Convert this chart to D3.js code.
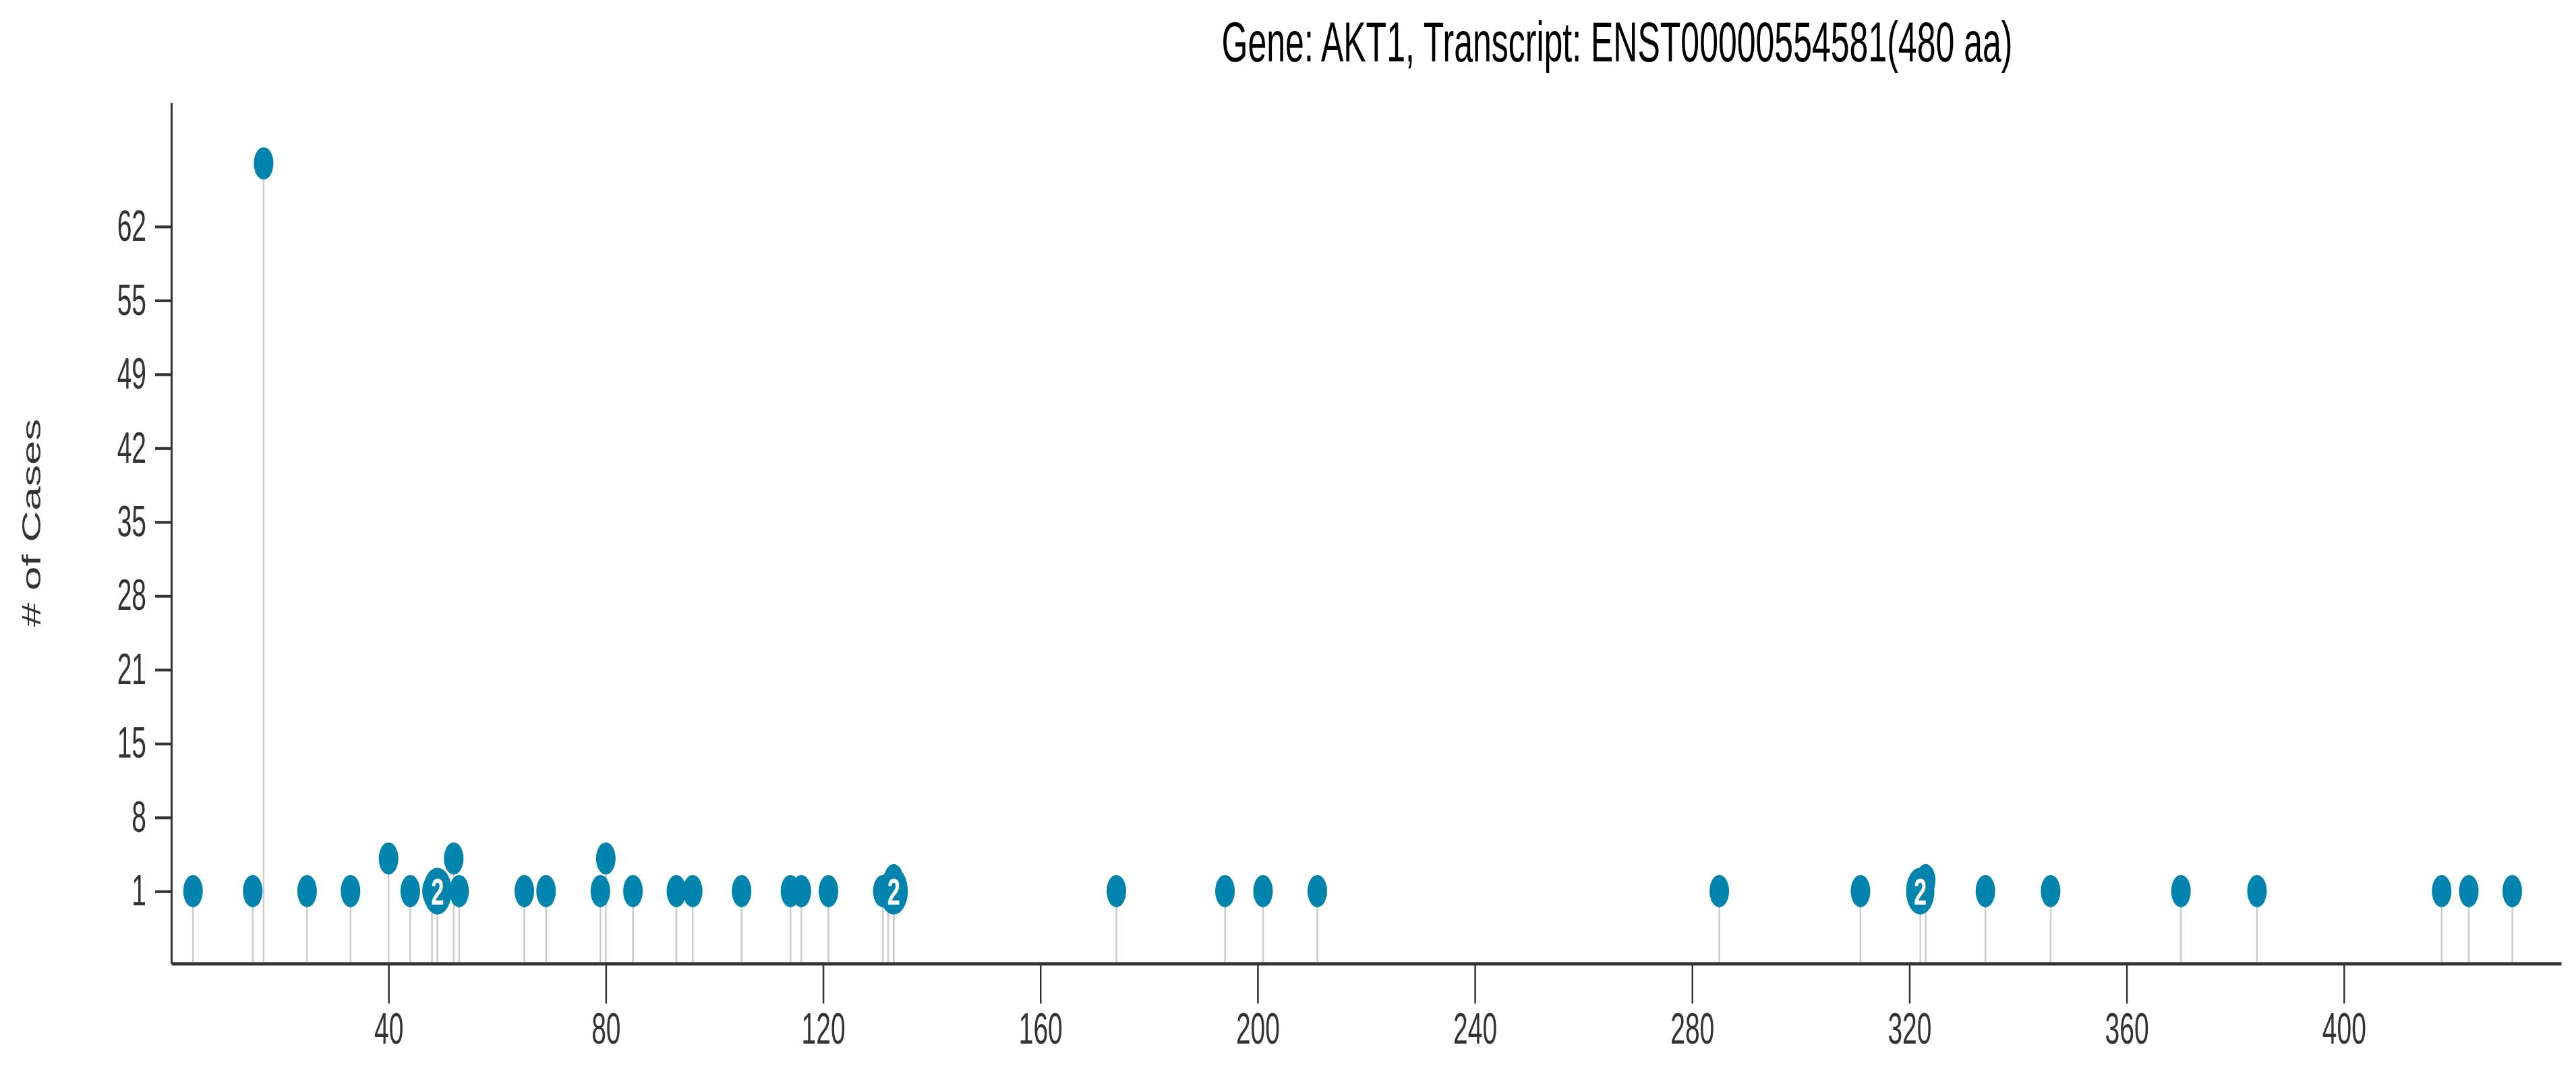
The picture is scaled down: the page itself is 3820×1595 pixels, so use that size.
<!DOCTYPE html>
<html>
<head>
<meta charset="utf-8">
<script src="https://cdn.jsdelivr.net/npm/d3@7"></script>
<style>
  body { margin: 0; background: #fff; }
  svg { display: block; }
</style>
</head>
<body>
<svg id="chart" width="3820" height="1595"></svg>
<script>
var chartTitle = "Gene: AKT1, Transcript: ENST00000554581(480 aa)";
var yLabel = "# of Cases";

// amino acid position of each mutation and its number of cases
var positions = [4, 15, 17, 25, 33, 40, 44, 48, 52, 53, 65, 69, 79, 80, 85, 93, 96, 105, 114, 116,
                 121, 131, 132, 133, 174, 194, 201, 211, 285, 311, 323, 334, 346, 370, 384, 418, 423, 431];
var counts    = [1, 1, 68, 1, 1, 4, 1, 1, 4, 1, 1, 1, 1, 4, 1, 1, 1, 1, 1, 1,
                 1, 1, 1, 2, 1, 1, 1, 1, 1, 1, 2, 1, 1, 1, 1, 1, 1, 1];

// positions drawn as bigger markers with a number inside
var groupPositions = [49, 133, 322];
var groupCounts    = [1, 1, 1];
var groupLabels    = ["2", "2", "2"];

var xTicks = [40, 80, 120, 160, 200, 240, 280, 320, 360, 400];
var yTicks = [1, 7.8, 14.6, 21.4, 28.2, 35, 41.8, 48.6, 55.4, 62.2];
var yTickLabels = ["1", "8", "15", "21", "28", "35", "42", "49", "55", "62"];

var svg = d3.select("#chart");
var font = "'Liberation Sans', Arial, Helvetica, sans-serif";

// the whole picture is stretched vertically
var stretch = 1.655;
var g = svg.append("g").attr("transform", "scale(1," + stretch + ")");

var x = d3.scaleLinear().domain([0, 440]).range([254, 3798]);
var y = d3.scaleLinear().domain([-5.65, 73.6]).range([1428 / stretch, 152 / stretch]);

var muts = positions.map(function(p, i) { return {pos: p, count: counts[i]}; });
var groups = groupPositions.map(function(p, i) { return {pos: p, count: groupCounts[i], label: groupLabels[i]}; });

// title
g.append("text")
  .attr("x", 2398)
  .attr("y", 55)
  .attr("text-anchor", "middle")
  .style("font-family", font)
  .style("font-size", "50px")
  .style("fill", "#000")
  .text(chartTitle);

// y axis label
g.append("text")
  .attr("transform", "translate(60," + (775 / stretch) + ") rotate(-90)")
  .attr("text-anchor", "middle")
  .style("font-family", font)
  .style("font-size", "39px")
  .style("fill", "#333")
  .text(yLabel);

// stems
g.selectAll(".stem")
  .data(muts.concat(groups))
  .enter().append("line")
  .attr("class", "stem")
  .attr("x1", function(d) { return x(d.pos); })
  .attr("x2", function(d) { return x(d.pos); })
  .attr("y1", y.range()[0])
  .attr("y2", function(d) { return y(d.count); })
  .style("stroke", "#cccccc")
  .style("stroke-width", 2.5);

// x axis
var xAxis = g.append("g")
  .attr("transform", "translate(0," + y.range()[0] + ")")
  .call(d3.axisBottom(x).tickValues(xTicks).tickSize(36).tickSizeOuter(0).tickPadding(8));

// y axis
var yAxis = g.append("g")
  .attr("transform", "translate(" + x(0) + ",0)")
  .call(d3.axisLeft(y).tickValues(yTicks)
    .tickFormat(function(d, i) { return yTickLabels[i]; })
    .tickSize(24).tickSizeOuter(0).tickPadding(13));

[xAxis, yAxis].forEach(function(a) {
  a.select(".domain").style("stroke", "#333").style("stroke-width", 3);
  a.selectAll(".tick line").style("stroke", "#333").style("stroke-width", 2.5);
  a.selectAll(".tick text")
    .style("font-family", font)
    .style("font-size", "39px")
    .style("fill", "#333");
});

// dots
g.selectAll(".dot")
  .data(muts)
  .enter().append("circle")
  .attr("class", "dot")
  .attr("cx", function(d) { return x(d.pos); })
  .attr("cy", function(d) { return y(d.count); })
  .attr("r", 14.5)
  .style("fill", "#0083ad");

// grouped markers
var grp = g.selectAll(".group")
  .data(groups)
  .enter().append("g")
  .attr("class", "group");

grp.append("circle")
  .attr("cx", function(d) { return x(d.pos); })
  .attr("cy", function(d) { return y(d.count); })
  .attr("r", 21)
  .style("fill", "#0083ad");

grp.append("text")
  .attr("x", function(d) { return x(d.pos); })
  .attr("y", function(d) { return y(d.count); })
  .attr("dy", "0.36em")
  .attr("text-anchor", "middle")
  .style("font-family", font)
  .style("font-size", "34px")
  .style("font-weight", "bold")
  .style("fill", "#fff")
  .text(function(d) { return d.label; });
</script>
</body>
</html>
